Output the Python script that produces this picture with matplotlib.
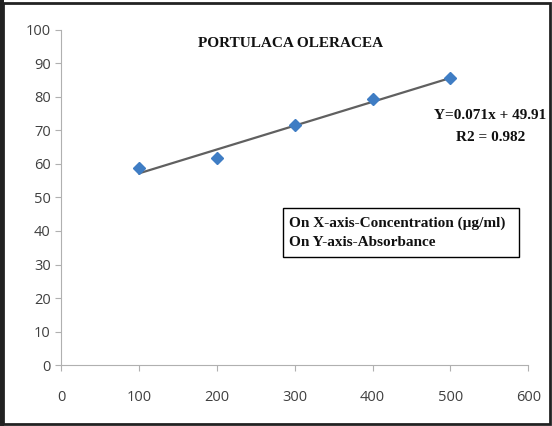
import matplotlib.pyplot as plt
import numpy as np
from matplotlib.patches import Rectangle

# Dati
concentrazione = [100, 200, 300, 400, 500]
assorbanza = [58.8, 61.8, 71.6, 79.3, 85.6]
x_ticks = [0, 100, 200, 300, 400, 500, 600]
y_ticks = [0, 10, 20, 30, 40, 50, 60, 70, 80, 90, 100]

fig = plt.figure(figsize=(5.52, 4.26), dpi=100)
ax = fig.add_axes([0.111, 0.143, 0.846, 0.787])

# Retta di regressione
coef = np.polyfit(concentrazione, assorbanza, 1)
xs = np.array([concentrazione[0], concentrazione[-1]])
ax.plot(xs, np.polyval(coef, xs), color='#606060', linewidth=1.6, zorder=2)

ax.plot(concentrazione, assorbanza, 'D', color='#3f7dc4', markersize=6.5, zorder=3)

ax.set_xlim(0, 600)
ax.set_ylim(0, 100)
ax.set_xticks(x_ticks)
ax.set_yticks(y_ticks)
for s in ['top', 'right']:
    ax.spines[s].set_visible(False)
for s in ['left', 'bottom']:
    ax.spines[s].set_color('#b0b0b0')
ax.tick_params(colors='#b0b0b0', labelcolor='#404040', length=4, labelsize=10.5)
ax.tick_params(axis='x', pad=14)
for lab in ax.get_xticklabels() + ax.get_yticklabels():
    lab.set_family('Open Sans')

serif = {'family': 'Liberation Serif', 'weight': 'bold', 'color': '#111111'}
ax.text(294, 95.8, 'PORTULACA OLERACEA', ha='center', va='center', fontsize=11, **serif)
ax.text(551, 74.3, 'Y=0.071x + 49.91', ha='center', va='center', fontsize=11, **serif)
ax.text(551, 67.9, 'R2 = 0.982', ha='center', va='center', fontsize=11, **serif)

# Riquadro con le etichette degli assi
fig.patches.append(Rectangle((283 / 552, 1 - 257 / 426), 236 / 552, 49 / 426,
                             transform=fig.transFigure, fill=False, edgecolor='black', linewidth=1))
fig.text(289 / 552, 1 - 223 / 426, 'On X-axis-Concentration (\u00b5g/ml)', va='center', fontsize=11, **serif)
fig.text(289 / 552, 1 - 243 / 426, 'On Y-axis-Absorbance', va='center', fontsize=11, **serif)

# Cornice esterna
fig.patches.append(Rectangle((0.006, 0.004), 0.99, 0.99, transform=fig.transFigure,
                             fill=False, edgecolor='#222222', linewidth=2))
fig.patches.append(Rectangle((0.0, 0.0), 0.008, 1.0, transform=fig.transFigure,
                             facecolor='#222222', edgecolor='none'))

fig.savefig('out.png', dpi=100)
